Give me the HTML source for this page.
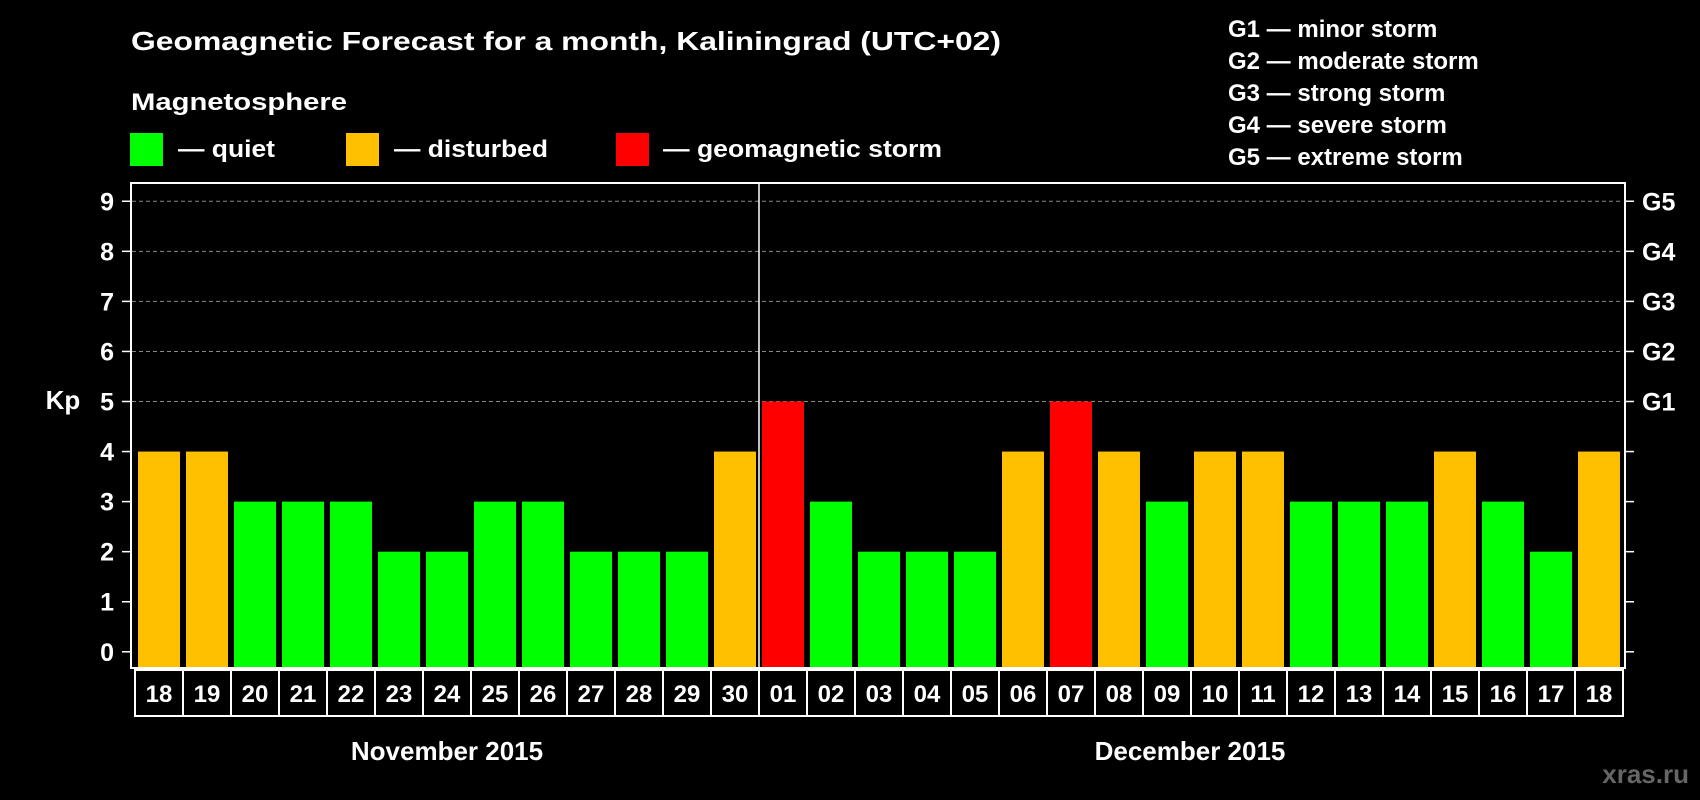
<!DOCTYPE html>
<html><head><meta charset="utf-8"><style>
html,body{margin:0;padding:0;background:#000;width:1700px;height:800px;overflow:hidden}
svg{display:block;font-family:"Liberation Sans",Arial,sans-serif;font-weight:bold}
</style></head><body>
<svg id="chart" width="1700" height="800" viewBox="0 0 1700 800" xmlns="http://www.w3.org/2000/svg">
<rect width="1700" height="800" fill="#000"/>
<text x="131" y="50" fill="#fff" font-size="26" textLength="870" lengthAdjust="spacingAndGlyphs">Geomagnetic Forecast for a month, Kaliningrad (UTC+02)</text>
<text x="131" y="110" fill="#fff" font-size="24" textLength="216" lengthAdjust="spacingAndGlyphs">Magnetosphere</text>
<rect x="130" y="133" width="33" height="33" fill="#00ff00"/>
<text x="178" y="157" fill="#fff" font-size="24" textLength="97" lengthAdjust="spacingAndGlyphs">— quiet</text>
<rect x="346" y="133" width="33" height="33" fill="#ffc000"/>
<text x="394" y="157" fill="#fff" font-size="24" textLength="154" lengthAdjust="spacingAndGlyphs">— disturbed</text>
<rect x="616" y="133" width="33" height="33" fill="#ff0000"/>
<text x="663" y="157" fill="#fff" font-size="24" textLength="279" lengthAdjust="spacingAndGlyphs">— geomagnetic storm</text>
<g fill="#fff" font-size="24">
<text x="1228" y="37">G1 — minor storm</text>
<text x="1228" y="69">G2 — moderate storm</text>
<text x="1228" y="101">G3 — strong storm</text>
<text x="1228" y="133">G4 — severe storm</text>
<text x="1228" y="165">G5 — extreme storm</text>
</g>
<text x="63" y="409" fill="#fff" font-size="26" text-anchor="middle">Kp</text>
<text x="447" y="760" fill="#fff" font-size="26" text-anchor="middle">November 2015</text>
<text x="1190" y="760" fill="#fff" font-size="26" text-anchor="middle">December 2015</text>
<text x="1689" y="783" fill="#666" font-size="26" text-anchor="end">xras.ru</text>
<g id="plot"></g>
</svg>
<script>
const days = ["18","19","20","21","22","23","24","25","26","27","28","29","30","01","02","03","04","05","06","07","08","09","10","11","12","13","14","15","16","17","18"];
const kpValues = [4,4,3,3,3,2,2,3,3,2,2,2,4,5,3,2,2,2,4,5,4,3,4,4,3,3,3,4,3,2,4];
const yTicks = [0,1,2,3,4,5,6,7,8,9];
const gLabels = ["G1","G2","G3","G4","G5"];
const gLevels = [5,6,7,8,9];

const NS = "http://www.w3.org/2000/svg";
const plot = document.getElementById("plot");
const X0 = 138, STEP = 48, BW = 42;
const Y0 = 651.8, UNIT = 50.06;
const xPos = i => X0 + i * STEP;
const yPos = v => Y0 - v * UNIT;
function mk(tag, attrs, parent) {
  const e = document.createElementNS(NS, tag);
  for (const k in attrs) e.setAttribute(k, attrs[k]);
  (parent || plot).appendChild(e);
  return e;
}
function color(v) { return v >= 5 ? "#ff0000" : v >= 4 ? "#ffc000" : "#00ff00"; }

// gridlines
gLevels.forEach(v => {
  const l = mk("line", {x1: 132, x2: 1623, y1: yPos(v), y2: yPos(v), stroke: "#888", "stroke-width": 1, "stroke-dasharray": "4 3"});
  
  
});
// bars
kpValues.forEach((v, i) => {
  const r = mk("rect", {x: xPos(i), y: yPos(v), width: BW, height: Y0 + 16 - yPos(v), fill: color(v)});
  
  
});
// month divider
const split = days.indexOf("01");
const dv = mk("line", {x1: xPos(split) - 3, x2: xPos(split) - 3, y1: 183, y2: 668, stroke: "#fff", "stroke-width": 1.5});


// plot frame
const fr = mk("rect", {x: 131, y: 183, width: 1494, height: 485, fill: "none", stroke: "#fff", "stroke-width": 2});


// y ticks
yTicks.forEach(v => {
  const t = mk("line", {x1: 122, x2: 131, y1: yPos(v), y2: yPos(v), stroke: "#fff", "stroke-width": 1.5});
  
  
  const t2 = mk("line", {x1: 1625, x2: 1634, y1: yPos(v), y2: yPos(v), stroke: "#fff", "stroke-width": 1.5});
  
  
  const lb = mk("text", {x: 114, y: yPos(v) + 9, fill: "#fff", "font-size": 25, "text-anchor": "end"});
  lb.textContent = v;
  
  
});
gLabels.forEach((g, i) => {
  const lb = mk("text", {x: 1642, y: yPos(gLevels[i]) + 9, fill: "#fff", "font-size": 25});
  lb.textContent = g;
  
  
});
// date label boxes
const LX = X0 - 3;
days.forEach((d, i) => {
  const c = mk("rect", {x: LX + i * STEP, y: 670, width: STEP, height: 46, fill: "none", stroke: "#fff", "stroke-width": 2});
  
  
  const t = mk("text", {x: LX + i * STEP + STEP / 2, y: 702, fill: "#fff", "font-size": 24, "text-anchor": "middle"});
  t.textContent = d;
  
  
});
</script>
</body></html>
